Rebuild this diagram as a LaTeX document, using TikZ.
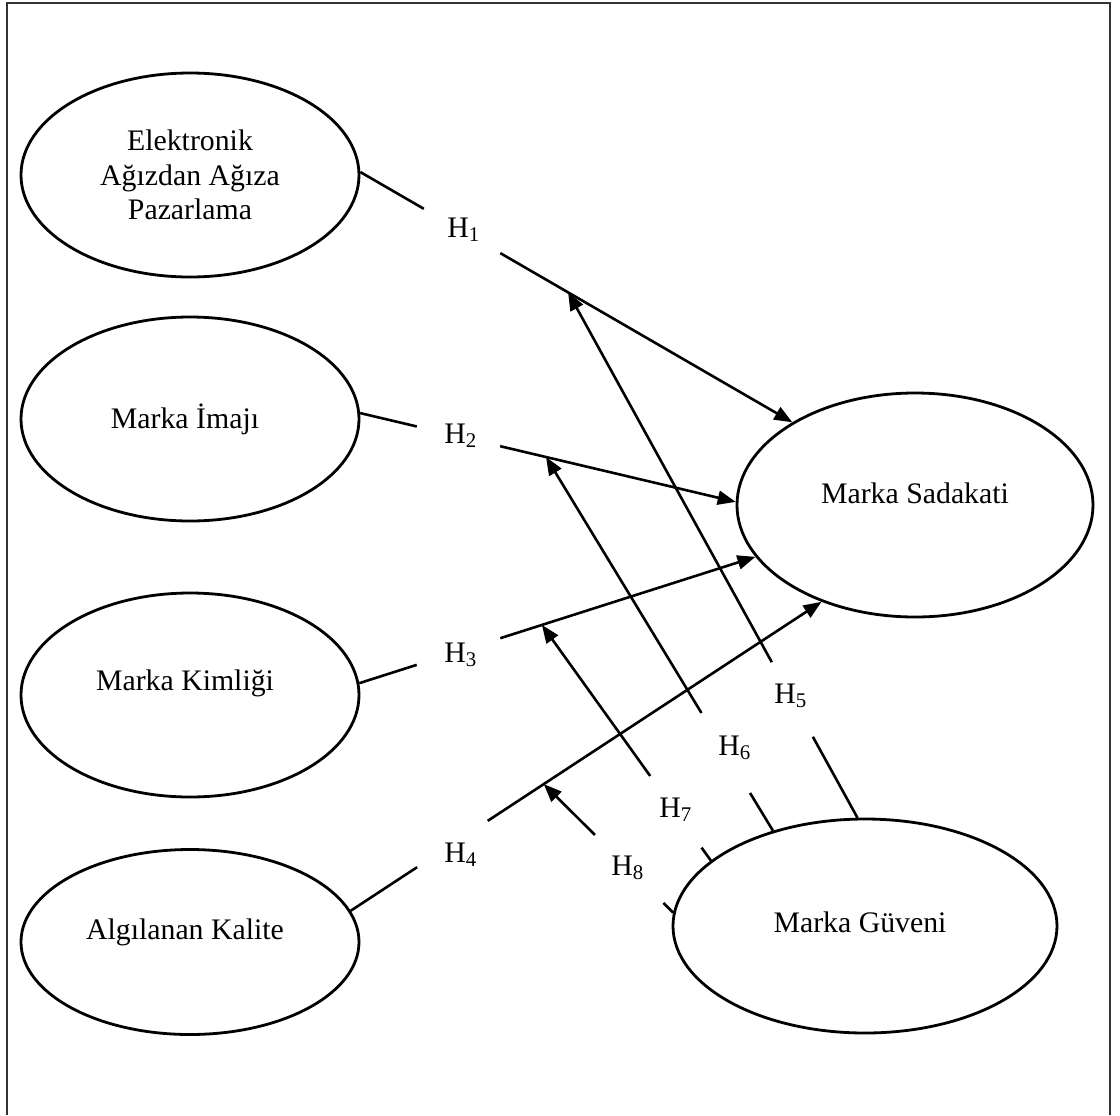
\documentclass[tikz,border=0pt]{standalone}
\usepackage{fontspec}
\setmainfont{Liberation Serif}
\usetikzlibrary{shapes.geometric,arrows.meta,calc}
\begin{document}
\begin{tikzpicture}[x=0.5pt,y=-0.5pt,
  font=\fontsize{14.9}{17.3}\selectfont,
  construct/.style={ellipse, draw, line width=1.4pt, inner sep=0pt, align=center},
  link/.style={line width=1.3pt},
  arr/.style={link, -{Triangle[length=9pt,width=7pt]}},
  hyp/.style={anchor=base west, inner sep=0pt},
  frameline/.style={line width=0.6pt, draw=black!80}
]
\useasboundingbox (0,0) rectangle (1120,1115);
\draw[frameline] (7,1115) -- (7,3) -- (1110,3) -- (1110,1115);

% constructs
\node[construct, minimum width=169pt, minimum height=102pt] (E1) at (190,175) {Elektronik\\Ağızdan Ağıza\\Pazarlama};
\node[construct, minimum width=169pt, minimum height=102pt] (E2) at (190,419) {Marka İmajı\hspace{5pt}};
\node[construct, minimum width=169pt, minimum height=102pt] (E3) at (190,695) {\raisebox{6pt}[\height][\depth]{Marka Kimliği}\hspace{5pt}};
\node[construct, minimum width=169pt, minimum height=92.5pt] (E4) at (190,942) {\raisebox{5pt}[\height][\depth]{Algılanan Kalite}\hspace{5pt}};
\node[construct, minimum width=178pt, minimum height=112pt] (S) at (915,505) {\raisebox{6pt}[\height][\depth]{Marka Sadakati}};
\node[construct, minimum width=192pt, minimum height=107pt] (G) at (865,926) {\raisebox{2pt}[\height][\depth]{Marka Güveni}\hspace{5pt}};

% hypothesis labels
\node[hyp] (h1) at (447,237) {H\textsubscript{1}};
\node[hyp] (h2) at (444,443) {H\textsubscript{2}};
\node[hyp] (h3) at (444,662) {H\textsubscript{3}};
\node[hyp] (h4) at (444,862) {H\textsubscript{4}};
\node[hyp] (h5) at (774,703) {H\textsubscript{5}};
\node[hyp] (h6) at (718,755) {H\textsubscript{6}};
\node[hyp] (h7) at (659,817) {H\textsubscript{7}};
\node[hyp] (h8) at (611,875) {H\textsubscript{8}};

% points on the direct paths where the moderating arrows land
\coordinate (m1) at ($(E1.1)!0.481!(S.146)$);
\coordinate (m2) at ($(E2.2)!0.495!(S.179)$);
\coordinate (m3) at ($(E3.4)!0.461!(S.198)$);
\coordinate (m4) at ($(E4.11)!0.41!(S.226)$);

% direct paths H1-H4
\draw[link] (E1.1) -- ($(E1.1)!0.147!(S.146)$);
\draw[arr] ($(E1.1)!0.324!(S.146)$) -- (S.146);
\draw[link] (E2.2) -- ($(E2.2)!0.151!(S.179)$);
\draw[arr] ($(E2.2)!0.373!(S.179)$) -- (S.179);
\draw[link] (E3.4) -- ($(E3.4)!0.145!(S.198)$);
\draw[arr] ($(E3.4)!0.356!(S.198)$) -- (S.198);
\draw[link] (E4.11) -- ($(E4.11)!0.141!(S.226)$);
\draw[arr] ($(E4.11)!0.291!(S.226)$) -- (S.226);

% paths from Marka Guveni H5-H8
\draw[link] (G.94) -- ($(G.94)!0.154!(m1)$);
\draw[arr] ($(G.94)!0.296!(m1)$) -- (m1);
\draw[link] (G.134) -- ($(G.134)!0.101!(m2)$);
\draw[arr] ($(G.134)!0.315!(m2)$) -- (m2);
\draw[link] (G.157) -- ($(G.157)!0.055!(m3)$);
\draw[arr] ($(G.157)!0.359!(m3)$) -- (m3);
\draw[link] (G.176) -- ($(G.176)!0.075!(m4)$);
\draw[arr] ($(G.176)!0.604!(m4)$) -- (m4);
\end{tikzpicture}
\end{document}
